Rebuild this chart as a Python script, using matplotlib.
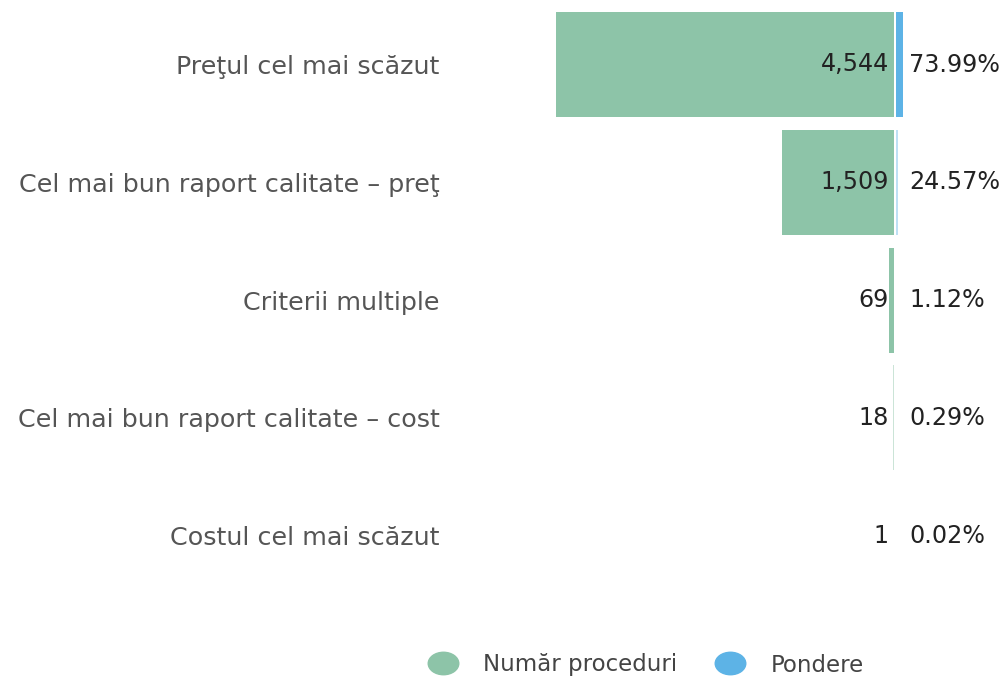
import matplotlib
matplotlib.use("Agg")
import matplotlib.pyplot as plt
from matplotlib.lines import Line2D
from matplotlib.path import Path
from matplotlib.transforms import Affine2D

categories = ["Preţul cel mai scăzut", "Cel mai bun raport calitate – preţ",
              "Criterii multiple", "Cel mai bun raport calitate – cost",
              "Costul cel mai scăzut"]
counts = [4544, 1509, 69, 18, 1]
shares = [73.99, 24.57, 1.12, 0.29, 0.02]
count_labels = ["4,544", "1,509", "69", "18", "1"]
share_labels = ["73.99%", "24.57%", "1.12%", "0.29%", "0.02%"]
green_alpha = [1.0, 1.0, 1.0, 0.45, 0.06]
blue_alpha = [1.0, 0.4, 0.1, 0.05, 0.02]

plt.rcParams['font.family'] = ['DejaVu Sans']

W, H = 1004, 676
fig = plt.figure(figsize=(W / 100, H / 100), dpi=100)

GREEN = "#8DC4A8"
BLUE = "#5DB3E6"
FS_CAT = 18.3
FS_VAL = 17.2

top_px, bot_px = 5.6, 594.6
ax_left, ax_right = 446, 894
ax = fig.add_axes([ax_left / W, 1 - bot_px / H, (ax_right - ax_left) / W, (bot_px - top_px) / H])
px_per_unit = 338 / 4544
ax.set_xlim((ax_right - ax_left) / px_per_unit, 0)
ax.set_ylim(4.5, -0.5)
y = list(range(len(categories)))
for i in y:
    ax.barh(i, counts[i], height=0.89, color=GREEN, alpha=green_alpha[i], linewidth=0)
    ax.annotate(count_labels[i], xy=(0, i), xytext=(-5, 0), textcoords="offset pixels",
                ha="right", va="center", fontsize=FS_VAL, color="#222222")
ax.set_yticks(y)
ax.set_yticklabels(categories, fontsize=FS_CAT, color="#555555")
ax.tick_params(axis="y", length=0, pad=4.5)
ax.set_xticks([])
for s in ax.spines.values():
    s.set_visible(False)

b_left, b_right = 896, 1004
ax2 = fig.add_axes([b_left / W, 1 - bot_px / H, (b_right - b_left) / W, (bot_px - top_px) / H])
pct_px = 7 / 73.99
ax2.set_xlim(0, (b_right - b_left) / pct_px)
ax2.set_ylim(4.5, -0.5)
for i in y:
    ax2.barh(i, shares[i], height=0.89, color=BLUE, alpha=blue_alpha[i], linewidth=0)
    ax2.annotate(share_labels[i], xy=(0, i), xytext=(13, 0), textcoords="offset pixels",
                 ha="left", va="center", fontsize=FS_VAL, color="#222222", annotation_clip=False)
ax2.axis("off")

ell = Path.unit_circle().transformed(Affine2D().scale(1.36, 1.0))
handles = [Line2D([], [], marker=ell, linestyle="none", markersize=22, color=GREEN, label="Număr proceduri"),
           Line2D([], [], marker=ell, linestyle="none", markersize=22, color=BLUE, label="Pondere")]
fig.legend(handles=handles, loc="center", bbox_to_anchor=(642 / W, 1 - 665 / H), ncol=2,
           frameon=False, fontsize=16.5, handletextpad=0.75, columnspacing=1.3,
           labelcolor="#444444", borderaxespad=0)

fig.savefig("out.png", dpi=100)
